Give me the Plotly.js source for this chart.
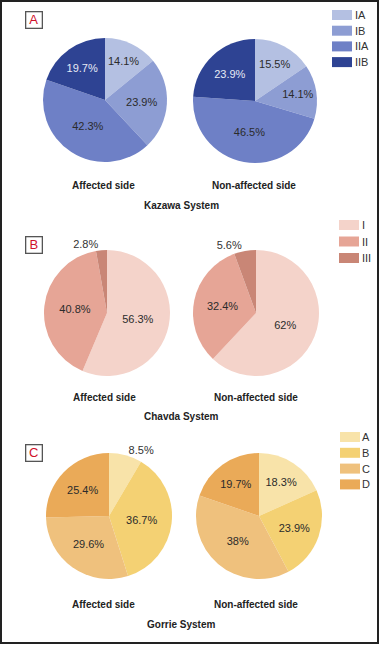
<!DOCTYPE html>
<html>
<head>
<meta charset="utf-8">
<script src="https://cdn.plot.ly/plotly-3.0.1.min.js"></script>
<style>html,body{margin:0;padding:0;background:#fff;}#chart{width:380px;height:645px;}</style>
</head>
<body>
<div id="chart"></div>
<script>
// ---- data ----
const kazawaLabels = ['IA', 'IB', 'IIA', 'IIB'];
const kazawaAffected = [14.1, 23.9, 42.3, 19.7];
const kazawaNonAffected = [15.5, 14.1, 46.5, 23.9];
const kazawaColors = ['#b4c0e2', '#8d9dd3', '#6e80c6', '#2e4393'];

const chavdaLabels = ['I', 'II', 'III'];
const chavdaAffected = [56.3, 40.8, 2.8];
const chavdaNonAffected = [62, 32.4, 5.6];
const chavdaColors = ['#f4d3ca', '#e6a596', '#c98676'];

const gorrieLabels = ['A', 'B', 'C', 'D'];
const gorrieAffected = [8.5, 36.7, 29.6, 25.4];
const gorrieNonAffected = [18.3, 23.9, 38, 19.7];
const gorrieColors = ['#f8e3a9', '#f4d173', '#efc17d', '#eaaa58'];

const sideTitles = ['Affected side', 'Non-affected side'];
const systemTitles = ['Kazawa System', 'Chavda System', 'Gorrie System'];
const panelLetters = ['A', 'B', 'C'];

// ---- layout helpers ----
const W = 380, H = 645;
const px = x => x / W;
const py = y => 1 - y / H;
const FONT = 'Liberation Sans, Arial, sans-serif';

function pie(labels, values, colors, cx, cy, r, textColors, textpos) {
  return {
    type: 'pie', labels: labels, values: values, sort: false,
    direction: 'clockwise', rotation: 0,
    marker: {colors: colors, line: {width: 0}},
    texttemplate: '%{value}%', textinfo: 'text',
    textposition: textpos || 'inside',
    insidetextorientation: 'horizontal',
    textfont: {family: FONT, size: 11, color: textColors},
    outsidetextfont: {family: FONT, size: 11, color: '#333'},
    hoverinfo: 'label+value',
    domain: {x: [px(cx - r), px(cx + r)], y: [py(cy + r), py(cy - r)]},
    showlegend: false
  };
}

const darkT = '#2b2b2b';
const data = [
  pie(kazawaLabels, kazawaAffected, kazawaColors, 105, 100, 62, [darkT, darkT, darkT, '#e6eaf5']),
  pie(kazawaLabels, kazawaNonAffected, kazawaColors, 255, 101, 62, [darkT, darkT, darkT, '#e6eaf5']),
  pie(chavdaLabels, chavdaAffected, chavdaColors, 107, 313, 63, [darkT, darkT, darkT], ['inside', 'inside', 'outside']),
  pie(chavdaLabels, chavdaNonAffected, chavdaColors, 256, 313, 63, [darkT, darkT, darkT], ['inside', 'inside', 'outside']),
  pie(gorrieLabels, gorrieAffected, gorrieColors, 109, 516, 63, [darkT, darkT, darkT, darkT], ['outside', 'inside', 'inside', 'inside']),
  pie(gorrieLabels, gorrieNonAffected, gorrieColors, 259, 516, 63, [darkT, darkT, darkT, darkT])
];

const annotations = [];
const shapes = [];
function ann(text, x, y, opts) {
  annotations.push(Object.assign({text: text, x: px(x), y: py(y), xref: 'paper', yref: 'paper',
    showarrow: false, xanchor: 'center', yanchor: 'middle',
    font: {family: FONT, size: 10, color: '#222'}}, opts || {}));
}
const sideY = [185, 397, 604];
const sysY = [205, 416, 624];
const sideX = [[103, 254], [104, 256], [103, 256]];
for (let i = 0; i < 3; i++) {
  ann('<b>' + sideTitles[0] + '</b>', sideX[i][0], sideY[i]);
  ann('<b>' + sideTitles[1] + '</b>', sideX[i][1], sideY[i]);
  ann('<b>' + systemTitles[i] + '</b>', 181, sysY[i]);
}
const boxY = [20, 245, 453];
for (let i = 0; i < 3; i++) {
  ann(panelLetters[i], 33.5, boxY[i], {font: {family: FONT, size: 13, color: '#d0112b'},
    bordercolor: '#555', borderwidth: 1.3, borderpad: 0, width: 15, height: 15});
}

// legends: swatch + label, built from the label/colour arrays
function legend(labels, colors, x0, yTop, step, textX) {
  labels.forEach((lab, i) => {
    const y = yTop + i * step;
    shapes.push({type: 'rect', xref: 'paper', yref: 'paper', x0: px(x0), x1: px(x0 + 20),
      y0: py(y + 10), y1: py(y), fillcolor: colors[i], line: {width: 0}});
    ann(lab, textX, y + 5, {xanchor: 'left', font: {family: FONT, size: 11, color: '#333'}});
  });
}
legend(kazawaLabels, kazawaColors, 332, 10, 15.7, 353);
legend(chavdaLabels, chavdaColors, 339, 220, 16.5, 360);
legend(gorrieLabels, gorrieColors, 340, 432, 15.8, 360);

shapes.push({type: 'rect', xref: 'paper', yref: 'paper', x0: px(1), x1: px(378), y0: py(643), y1: py(1),
  line: {color: '#222', width: 2}});

const layout = {
  width: W, height: H,
  margin: {l: 0, r: 0, t: 0, b: 0, autoexpand: false},
  paper_bgcolor: '#fff', plot_bgcolor: '#fff',
  font: {family: FONT},
  showlegend: false,
  annotations: annotations,
  shapes: shapes
};

Plotly.newPlot('chart', data, layout, {displayModeBar: false, staticPlot: true});
</script>
</body>
</html>
